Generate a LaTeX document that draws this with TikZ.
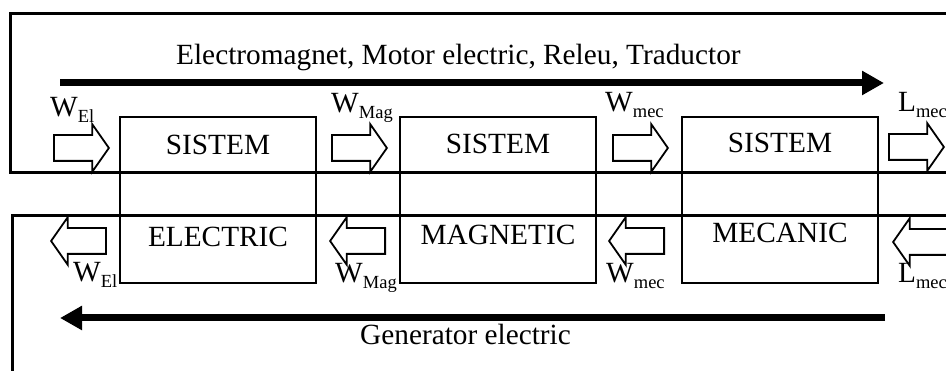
\documentclass[tikz,border=0pt]{standalone}
\usepackage{fontspec}
\setmainfont{Liberation Serif}
\usetikzlibrary{arrows.meta,shapes.arrows}
\newcommand\lblsub[2]{#1\raisebox{-5.5pt}{\fontsize{18.5}{20}\selectfont #2}}
\begin{document}
\begin{tikzpicture}[x=1pt,y=-1pt,
  every node/.style={font=\fontsize{29.3}{33}\selectfont, inner sep=0pt},
  frame/.style={line width=3pt},
  sysbox/.style={draw, line width=2pt, minimum width=196pt, minimum height=166pt},
  boxtext/.style={anchor=base},
  lbl/.style={anchor=base west},
  hollowR/.style={single arrow, draw, line width=1.8pt, inner sep=0pt, inner ysep=12pt,
     minimum height=55pt, single arrow head extend=11pt, single arrow tip angle=110, anchor=tip},
  hollowL/.style={hollowR, shape border rotate=180},
  flow/.style={line width=7pt, -{Triangle[length=22pt,width=23pt]}}
]
\useasboundingbox (0,0) rectangle (946,371);
\clip (0,0) rectangle (946,371);
% frames
\draw[frame] (960,14) -| (10,173) -- (960,173);
\draw[frame] (960,216) -| (12,380);
% boxes
\node[sysbox] (sysE) at (218,200) {};
\node[sysbox] (sysM) at (498,200) {};
\node[sysbox] (sysC) at (780,200) {};
\node[boxtext] (tE1) at (218,155) {SISTEM};
\node[boxtext] (tM1) at (498,154) {SISTEM};
\node[boxtext] (tC1) at (780,153) {SISTEM};
\node[boxtext] (tE2) at (218,247) {ELECTRIC};
\node[boxtext] (tM2) at (498,245) {MAGNETIC};
\node[boxtext] (tC2) at (780,243) {MECANIC};
% big arrows
\coordinate (fa) at (60,83);
\coordinate (fb) at (884,83);
\draw[flow] (fa) -- (fb);
\node[lbl] (ttop) at (176,65) {Electromagnet, Motor electric, Releu, Traductor};
\coordinate (ga) at (885,318);
\coordinate (gb) at (60,318);
\draw[flow] (ga) -- (gb);
\node[lbl] (tbot) at (360,345) {Generator electric};
% hollow arrows, top row
\node[hollowR] (ar1) at (110,148) {};
\node[hollowR] (ar2) at (388,148) {};
\node[hollowR] (ar3) at (669,148) {};
\node[hollowR] (ar4) at (945,147) {};
% hollow arrows, bottom row
\node[hollowL] (al1) at (50,241) {};
\node[hollowL] (al2) at (329,241) {};
\node[hollowL] (al3) at (608,241) {};
\node[hollowL] (al4) at (892,242) {};
% labels
\node[lbl] (l1) at (50,117) {\lblsub{W}{El}};
\node[lbl] (l2) at (331,113) {\lblsub{W}{Mag}};
\node[lbl] (l3) at (605,112) {\lblsub{W}{mec}};
\node[lbl] (l4) at (898,112) {\lblsub{L}{mec}};
\node[lbl] (l5) at (73,282) {\lblsub{W}{El}};
\node[lbl] (l6) at (335,283) {\lblsub{W}{Mag}};
\node[lbl] (l7) at (606,283) {\lblsub{W}{mec}};
\node[lbl] (l8) at (898,283) {\lblsub{L}{mec}};
\end{tikzpicture}
\end{document}
